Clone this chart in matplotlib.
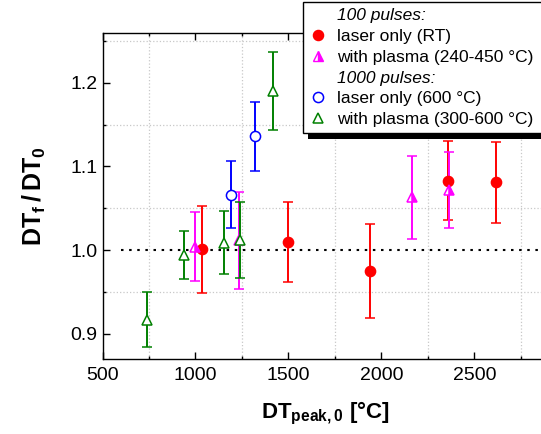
import matplotlib
matplotlib.use("Agg")
import matplotlib.pyplot as plt
from matplotlib.lines import Line2D
from matplotlib.patches import Rectangle
from matplotlib.ticker import MultipleLocator

plt.rcParams['font.family'] = ['Liberation Sans', 'DejaVu Sans']
plt.rcParams['mathtext.default'] = 'regular'

# --- datos ---
# 100 pulsos, laser solo (RT)
laser100_x = [1034, 1500, 1941, 2357, 2616]
laser100_y = [1.001, 1.010, 0.975, 1.083, 1.081]
laser100_err = [0.052, 0.048, 0.056, 0.047, 0.048]

# 100 pulsos, con plasma (240-450 C)
plasma100_x = [1000, 1235, 2163, 2364]
plasma100_y = [1.004, 1.012, 1.063, 1.072]
plasma100_err = [0.041, 0.058, 0.050, 0.045]

# 1000 pulsos, laser solo (600 C)
laser1000_x = [1190, 1321]
laser1000_y = [1.066, 1.136]
laser1000_err = [0.040, 0.041]

# 1000 pulsos, con plasma (300-600 C)
plasma1000_x = [739, 939, 1151, 1240, 1416]
plasma1000_y = [0.917, 0.994, 1.009, 1.012, 1.190]
plasma1000_err = [0.033, 0.029, 0.038, 0.045, 0.047]

ref_level = 1.0
ref_start = 600

fig = plt.figure(figsize=(5.41, 4.34), dpi=100)
ax = fig.add_axes([0.1895, 0.1728, 0.8248, 0.7505])

eb = dict(capsize=3.6, elinewidth=1.4, capthick=1.4, ms=7.3, mew=1.1, ls='none', zorder=3)

ax.errorbar(laser100_x, laser100_y, yerr=laser100_err, fmt='o', color='red',
            mfc='red', mec='red', **eb)
ax.errorbar(plasma100_x, plasma100_y, yerr=plasma100_err, fmt='^', color='magenta',
            mfc='magenta', mec='magenta', fillstyle='right', mfcalt='white', **eb)
ax.errorbar(laser1000_x, laser1000_y, yerr=laser1000_err, fmt='o', color='blue',
            mfc='white', mec='blue', **eb)
ax.errorbar(plasma1000_x, plasma1000_y, yerr=plasma1000_err, fmt='^', color='green',
            mfc='white', mec='green', **eb)

ax.hlines(ref_level, ref_start, 2900, colors='black', linewidth=1.5,
          linestyles=(0, (1.2, 2.7)), zorder=2)

ax.set_xlim(500, 2900)
ax.set_ylim(0.87, 1.259)
ax.xaxis.set_major_locator(MultipleLocator(500))
ax.xaxis.set_minor_locator(MultipleLocator(250))
ax.yaxis.set_minor_locator(MultipleLocator(0.05))
ax.set_yticks([0.9, 1.0, 1.1, 1.2])
ax.set_yticklabels(['0.9', '1.0', '1.1', '1.2'])

ax.tick_params(which='both', direction='in', top=True, right=True, labelsize=14, width=1)
ax.tick_params(which='major', length=5)
ax.tick_params(which='minor', length=2.5)
ax.tick_params(axis='x', pad=6)
for s in ax.spines.values():
    s.set_linewidth(1)

ax.grid(which='minor', color='#c8c8c8', linestyle=':', linewidth=0.9)
ax.set_axisbelow(True)

ax.set_xlabel(r'DT$_{peak,0}$ [°C]', fontsize=16, fontweight='bold', labelpad=11)
ax.set_ylabel(r'DT$_f$$\,$/$\,$DT$_0$', fontsize=18, fontweight='bold', labelpad=16)

# --- leyenda ---
blank = Line2D([], [], ls='none', marker=None)
handles = [
    blank,
    Line2D([], [], ls='none', marker='o', color='red', ms=7.3),
    Line2D([], [], ls='none', marker='^', color='magenta', mfc='magenta',
           fillstyle='right', mfcalt='white', ms=7.3),
    blank,
    Line2D([], [], ls='none', marker='o', color='blue', mfc='white', ms=7.3, mew=1.1),
    Line2D([], [], ls='none', marker='^', color='green', mfc='white', ms=7.3, mew=1.1),
]
labels = ['100 pulses:', 'laser only (RT)', 'with plasma (240-450 °C)',
          '1000 pulses:', 'laser only (600 °C)', 'with plasma (300-600 °C)']
leg = fig.legend(handles, labels, loc='upper left',
                 bbox_to_anchor=(303 / 541, 0.0, 260 / 541, 0.995), mode='expand',
                 fontsize=12.5, frameon=True, fancybox=False, edgecolor='black',
                 framealpha=1, handlelength=1.0, handletextpad=0.6, labelspacing=0.32,
                 borderpad=0.35, borderaxespad=0)
leg.get_frame().set_linewidth(1)
for i in (0, 3):
    leg.get_texts()[i].set_style('italic')
leg.set_zorder(10)

# sombra negra de la leyenda
fig.canvas.draw()
bb = leg.get_window_extent().transformed(fig.transFigure.inverted())
fig.patches.append(Rectangle((bb.x0 + 5 / 541, bb.y0 - 6 / 434), bb.width, bb.height,
                             transform=fig.transFigure, facecolor='black',
                             edgecolor='none', zorder=9))

fig.savefig('out.png', dpi=100)
